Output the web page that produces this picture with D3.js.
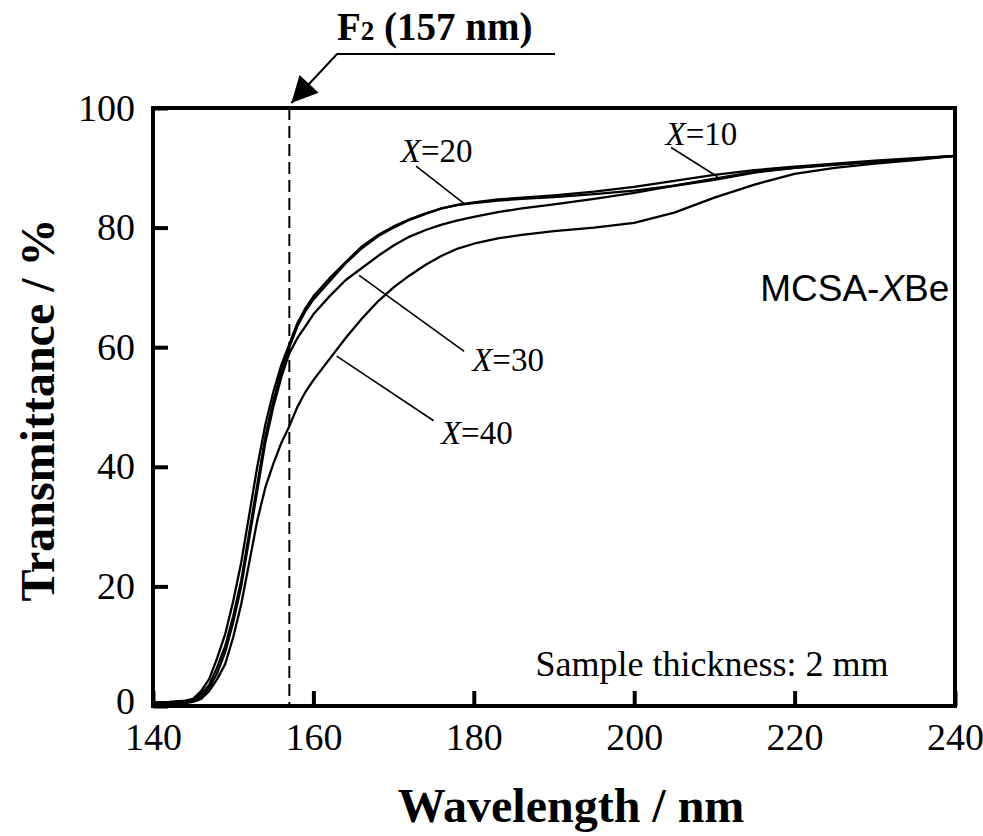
<!DOCTYPE html>
<html>
<head>
<meta charset="utf-8">
<script src="https://cdn.jsdelivr.net/npm/d3@7/dist/d3.min.js"></script>
<style>
  body { margin: 0; background: #fff; }
  text { fill: #000; }
</style>
</head>
<body>
<div id="chart"></div>
<script>
// wavelength grid (nm) and transmittance (%)
const wavelengths = [140, 142, 144, 145, 146, 147, 148, 149, 150, 151, 152, 153, 154, 155, 156, 157, 158, 159, 160,
    162, 164, 166, 168, 170, 172, 174, 176, 178, 180, 183, 186, 190, 195, 200, 205, 210, 215, 220, 225, 230, 235, 240];
const x10 = [0.5, 0.6, 0.8, 1.0, 2.0, 3.5, 6.5, 10, 15, 21, 29, 37, 45, 51, 56, 60, 63.5, 66, 68,
    71, 74, 76.5, 78.5, 80, 81.3, 82.3, 83.2, 83.8, 84.2, 84.7, 85.0, 85.4, 86.0, 86.8, 87.8, 88.8, 89.6, 90.2, 90.7, 91.2, 91.6, 92];
const x20 = [0.6, 0.7, 0.9, 1.2, 2.5, 4.5, 8, 12, 17.5, 24, 32, 40, 47, 52.5, 57, 60.5, 64, 66.5, 68.5,
    71.5, 74.2, 76.8, 78.7, 80.2, 81.4, 82.4, 83.2, 83.8, 84.1, 84.5, 84.8, 85.1, 85.6, 86.2, 87.0, 88.0, 89.2, 90.0, 90.6, 91.0, 91.5, 92];
const x30 = [0.4, 0.5, 0.7, 0.9, 1.5, 3, 5.5, 9, 14, 20, 28, 36, 44, 50, 55, 59, 61.5, 63.5, 65.5,
    68.5, 71.2, 73.2, 75.2, 77, 78.5, 79.6, 80.5, 81.2, 81.8, 82.6, 83.2, 83.9, 84.8, 85.8, 87.0, 88.2, 89.3, 90.0, 90.5, 91.0, 91.5, 92];
const x40 = [0.3, 0.4, 0.5, 0.7, 1.2, 2.5, 4.5, 7, 11.5, 17, 24, 31, 36.5, 40.5, 44, 46.8, 50, 52.5, 54.5,
    58, 61.5, 64.7, 67.6, 70, 72, 73.8, 75.3, 76.5, 77.3, 78.2, 78.8, 79.4, 80.0, 80.8, 82.5, 85.0, 87.2, 89.0, 90.0, 90.7, 91.3, 92];

const xTicks = [140, 160, 180, 200, 220, 240];
const yTicks = [0, 20, 40, 60, 80, 100];
const f2Line = 157;

// curve labels: [name, text wl, text T, leader from wl, from T, to wl, to T]
const curveLabels = [
    ["20", 170.9, 91.0, 172.8, 90.3, 179.0, 83.8],
    ["10", 203.9, 93.8, 204.6, 93.4, 210.4, 88.5],
    ["30", 179.8, 56.0, 178.8, 59.3, 165.7, 72.0],
    ["40", 175.9, 43.8, 175.0, 47.7, 162.9, 58.5]
];

class TransmittanceChart {
    constructor() {
        this.width = 983;
        this.height = 836;
        this.left = 153; this.right = 955;
        this.top = 108; this.bottom = 706;
        this.serif = "'Liberation Serif', 'Times New Roman', serif";

        this.svg = d3.select("#chart").append("svg")
            .attr("width", this.width)
            .attr("height", this.height);

        this.x = d3.scaleLinear().domain([140, 240]).range([this.left, this.right]);
        this.y = d3.scaleLinear().domain([0, 100]).range([this.bottom, this.top]);
    }

    update() {
        let self = this;
        const svg = this.svg;
        const x = this.x, y = this.y;

        // dashed F2 line
        svg.append("line")
            .attr("x1", x(f2Line)).attr("x2", x(f2Line))
            .attr("y1", y(100)).attr("y2", y(0))
            .attr("stroke", "#000").attr("stroke-width", 2)
            .attr("stroke-dasharray", "12,6");

        // curves
        const line = d3.line()
            .x((d, i) => x(wavelengths[i]))
            .y(d => y(d));
        svg.append("g").selectAll("path")
            .data([x10, x20, x30, x40])
            .enter()
            .append("path")
                .attr("d", line)
                .attr("fill", "none")
                .attr("stroke", "#000")
                .attr("stroke-width", 2.3)
                .attr("stroke-linejoin", "round");

        // axes, ticks pointing inward
        const yAxis = d3.axisLeft(y).tickValues(yTicks).tickSize(-15).tickPadding(18)
            .tickFormat(d3.format("d"));
        const gy = svg.append("g").attr("transform", `translate(${this.left},0)`).call(yAxis);
        const xAxis = d3.axisBottom(x).tickValues(xTicks).tickSize(-15).tickPadding(17)
            .tickFormat(d3.format("d"));
        const gx = svg.append("g").attr("transform", `translate(0,${this.bottom})`).call(xAxis);
        [gx, gy].forEach(g => {
            g.select(".domain").remove();
            g.selectAll(".tick line").attr("stroke", "#000").attr("stroke-width", 4);
            g.selectAll(".tick text")
                .style("font-family", self.serif)
                .style("font-size", "38px")
                .attr("fill", "#000");
        });
        gx.selectAll(".tick text").attr("dy", "0.71em");
        // the zero label sits a little above the corner
        gy.selectAll(".tick text").filter(d => d === 0).attr("dy", "0.2em");

        // frame
        svg.append("rect")
            .attr("x", this.left).attr("y", this.top)
            .attr("width", this.right - this.left)
            .attr("height", this.bottom - this.top)
            .attr("fill", "none")
            .attr("stroke", "#000").attr("stroke-width", 4);

        // curve labels with leader lines
        const lab = svg.append("g");
        curveLabels.forEach(c => {
            lab.append("line")
                .attr("x1", x(c[3])).attr("y1", y(c[4]))
                .attr("x2", x(c[5])).attr("y2", y(c[6]))
                .attr("stroke", "#000").attr("stroke-width", 1.6);
            const t = lab.append("text")
                .attr("x", x(c[1])).attr("y", y(c[2]))
                .style("font-family", self.serif)
                .style("font-size", "33px");
            t.append("tspan").style("font-style", "italic").text("X");
            t.append("tspan").text("=" + c[0]);
        });

        // sample name
        const name = svg.append("text")
            .attr("x", x(239.3)).attr("y", y(67.7))
            .attr("text-anchor", "end")
            .style("font-family", "'Liberation Sans', Arial, sans-serif")
            .style("font-size", "37px");
        name.append("tspan").text("MCSA-");
        name.append("tspan").style("font-style", "italic").text("X");
        name.append("tspan").text("Be");

        svg.append("text")
            .attr("x", x(187.7)).attr("y", y(5))
            .style("font-family", self.serif)
            .style("font-size", "36px")
            .text("Sample thickness: 2 mm");

        // F2 annotation
        const f2 = svg.append("text")
            .attr("x", 337).attr("y", 40)
            .style("font-family", self.serif)
            .style("font-size", "39px")
            .style("font-weight", "bold");
        f2.append("tspan").text("F");
        f2.append("tspan").style("font-size", "27px").text("2");
        f2.append("tspan").text(" (157 nm)");

        svg.append("defs").append("marker")
            .attr("id", "arrow")
            .attr("viewBox", "0 0 10 10")
            .attr("refX", 10).attr("refY", 5)
            .attr("markerUnits", "userSpaceOnUse")
            .attr("orient", "auto")
            .attr("markerWidth", 34).attr("markerHeight", 26)
            .append("path")
                .attr("d", "M0,0 L10,5 L0,10 Z")
                .attr("fill", "#000");

        svg.append("polyline")
            .attr("points", `555,54 337,54 ${x(f2Line) + 2},${this.top - 5}`)
            .attr("fill", "none")
            .attr("stroke", "#000").attr("stroke-width", 2)
            .attr("marker-end", "url(#arrow)");

        // axis titles
        svg.append("text")
            .attr("x", 571).attr("y", 822)
            .attr("text-anchor", "middle")
            .style("font-family", self.serif)
            .style("font-size", "48px")
            .style("font-weight", "bold")
            .text("Wavelength / nm");

        svg.append("text")
            .attr("transform", "translate(54,410) rotate(-90)")
            .attr("text-anchor", "middle")
            .style("font-family", self.serif)
            .style("font-size", "48px")
            .style("font-weight", "bold")
            .text("Transmittance / %");
    }
}

const chart = new TransmittanceChart();
chart.update();
</script>
</body>
</html>
